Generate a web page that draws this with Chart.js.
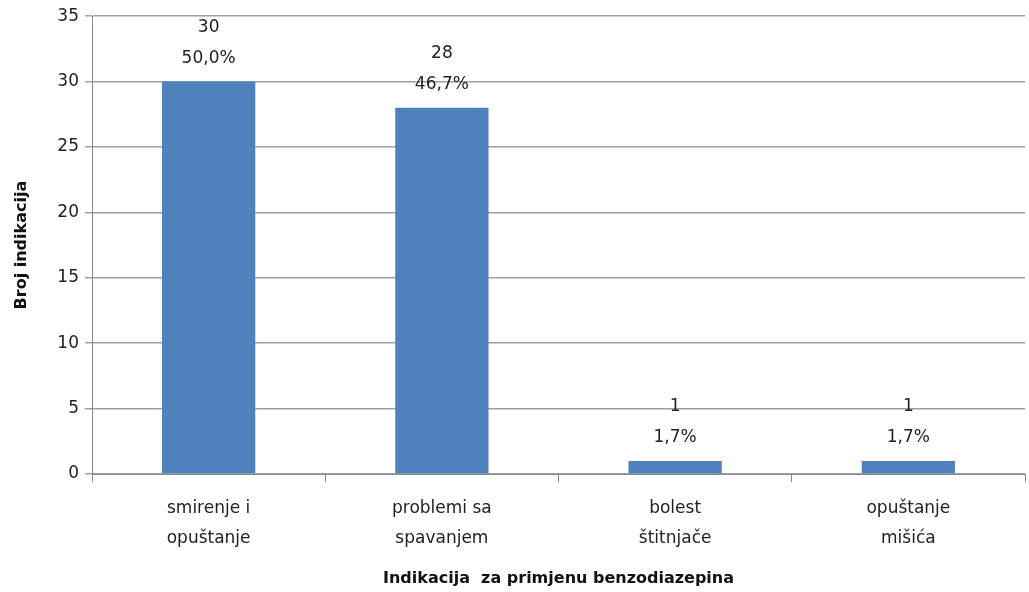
<!DOCTYPE html>
<html>
<head>
<meta charset="utf-8">
<script src="https://cdn.jsdelivr.net/npm/chart.js@4"></script>
<style>
  html, body { margin: 0; padding: 0; background: #fff; }
  #wrap { width: 1029px; height: 592px; }
</style>
</head>
<body>
<div id="wrap"><canvas id="chart" width="1029" height="592"></canvas></div>
<script>
const categories = [
  ["smirenje i", "opuštanje"],
  ["problemi sa", "spavanjem"],
  ["bolest", "štitnjače"],
  ["opuštanje", "mišića"]
];
const counts = [30, 28, 1, 1];
const yTicks = [0, 5, 10, 15, 20, 25, 30, 35];

const FONT = "'DejaVu Sans', Verdana, sans-serif";
const total = counts.reduce((a, b) => a + b, 0);

// two-line labels above each bar: count and share
const barLabels = {
  id: "barLabels",
  afterDatasetsDraw(chart) {
    const ctx = chart.ctx;
    const meta = chart.getDatasetMeta(0);
    ctx.save();
    ctx.fillStyle = "#222";
    ctx.font = "17px " + FONT;
    ctx.textAlign = "center";
    ctx.textBaseline = "middle";
    meta.data.forEach((bar, i) => {
      const pct = (counts[i] / total * 100).toFixed(1).replace(".", ",") + "%";
      ctx.fillText(String(counts[i]), bar.x, bar.y - 54);
      ctx.fillText(pct, bar.x, bar.y - 23);
    });
    ctx.restore();
  }
};

new Chart(document.getElementById("chart").getContext("2d"), {
  type: "bar",
  data: {
    labels: categories,
    datasets: [{
      data: counts,
      backgroundColor: "#4f81bd",
      categoryPercentage: 1,
      barPercentage: 0.4
    }]
  },
  options: {
    responsive: false,
    animation: false,
    layout: { padding: { left: 12, right: 4, top: 15, bottom: 4 } },
    plugins: { legend: { display: false }, tooltip: { enabled: false } },
    scales: {
      x: {
        grid: { offset: true, drawOnChartArea: false, drawTicks: true, tickLength: 8, color: "#888" },
        border: { color: "#888", width: 1 },
        ticks: { color: "#222", font: { family: FONT, size: 17, lineHeight: 1.75 }, padding: 12, maxRotation: 0 },
        title: {
          display: true,
          text: "Indikacija  za primjenu benzodiazepina",
          color: "#111",
          font: { family: FONT, size: 16, weight: "bold" },
          padding: { top: 0, bottom: 0 }
        },
        afterFit(scale) { scale.height = 114; }
      },
      y: {
        min: 0,
        max: 35,
        afterBuildTicks(scale) { scale.ticks = yTicks.map(v => ({ value: v })); },
        grid: { color: "#a0a0a0", lineWidth: 1.5, drawTicks: true, tickLength: 7 },
        border: { color: "#888", width: 1 },
        ticks: { color: "#222", font: { family: FONT, size: 17 }, padding: 6 },
        title: {
          display: true,
          text: "Broj indikacija",
          color: "#111",
          font: { family: FONT, size: 16, weight: "bold" },
          padding: { top: 0, bottom: 4 }
        },
        afterFit(scale) { scale.width = 80; }
      }
    }
  },
  plugins: [barLabels]
});
</script>
</body>
</html>
